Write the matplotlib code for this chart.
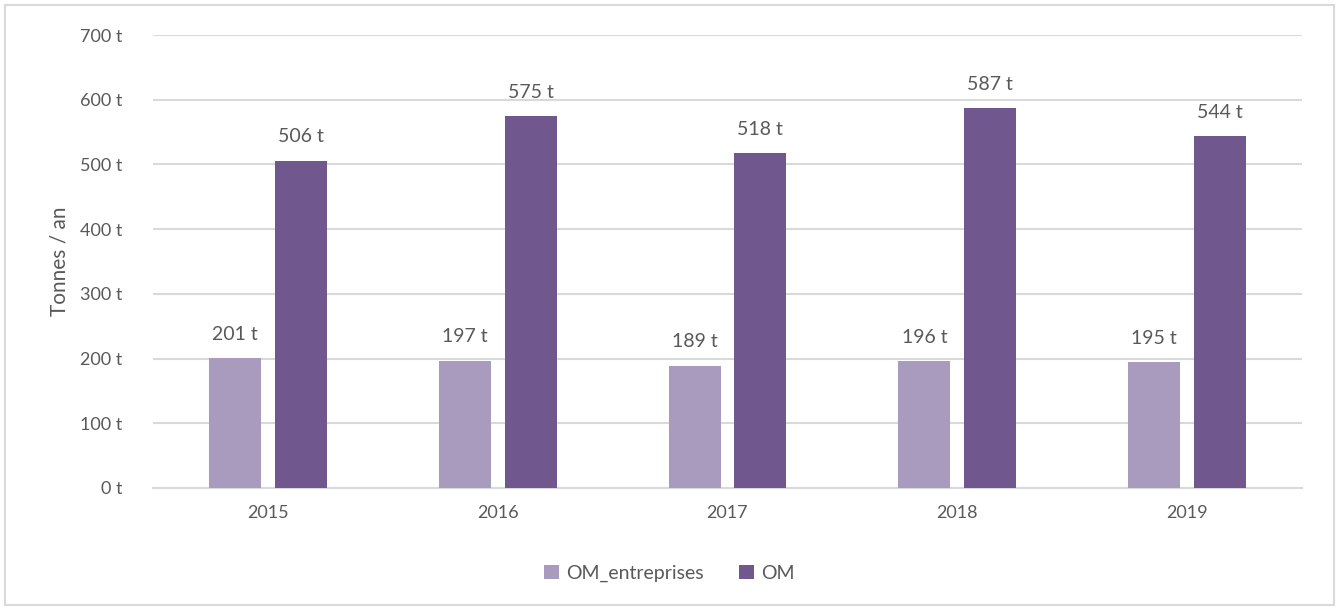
import matplotlib.pyplot as plt
from matplotlib.patches import Rectangle
import numpy as np

# Data
years = ["2015", "2016", "2017", "2018", "2019"]
om_entreprises = [201, 197, 189, 196, 195]
om = [506, 575, 518, 587, 544]

light = "#A99BBE"
dark = "#70588E"
grey_text = "#595959"

plt.rcParams['font.family'] = ['Lato', 'DejaVu Sans']

fig = plt.figure(figsize=(13.39, 6.10), dpi=100)
ax = fig.add_axes([0.1143, 0.2, 0.858, 0.7426])

x = np.arange(len(years))
w = 0.226
off = 0.143
b1 = ax.bar(x - off, om_entreprises, w, color=light, label="OM_entreprises", zorder=3)
b2 = ax.bar(x + off, om, w, color=dark, label="OM", zorder=3)

for bars in (b1, b2):
    for r in bars:
        ax.annotate(f"{int(r.get_height())} t", (r.get_x() + r.get_width() / 2, r.get_height()),
                    xytext=(0, 11), textcoords="offset points", ha="center", va="bottom",
                    fontsize=14, color=grey_text)

ax.set_xlim(-0.5, 4.5)
ax.set_ylim(0, 700)
ax.set_yticks(range(0, 701, 100))
ax.set_yticklabels([f"{v} t" for v in range(0, 701, 100)])
ax.set_xticks(x)
ax.set_xticklabels(years)
ax.tick_params(axis="both", length=0, labelsize=13, colors=grey_text)
ax.tick_params(axis="y", pad=22)
ax.tick_params(axis="x", pad=12)
ax.grid(axis="y", color="#D9D9D9", linewidth=1.5, zorder=0)
for s in ["top", "right", "left"]:
    ax.spines[s].set_visible(False)
ax.spines["bottom"].set_color("#D9D9D9")
ax.spines["bottom"].set_linewidth(1.5)

ax.set_ylabel("Tonnes / an", fontsize=15, color=grey_text, labelpad=8)

fig.legend(loc="center", bbox_to_anchor=(0.5, 0.06), ncol=2, frameon=False,
           fontsize=14, labelcolor=grey_text, handlelength=0.75, handleheight=0.75,
           handletextpad=0.4, columnspacing=1.8)

fig.patches.append(Rectangle((0.004, 0.008), 0.992, 0.984, transform=fig.transFigure,
                             fill=False, edgecolor="#D9D9D9", linewidth=1.5))

fig.savefig("out.png", dpi=100, facecolor="white")
